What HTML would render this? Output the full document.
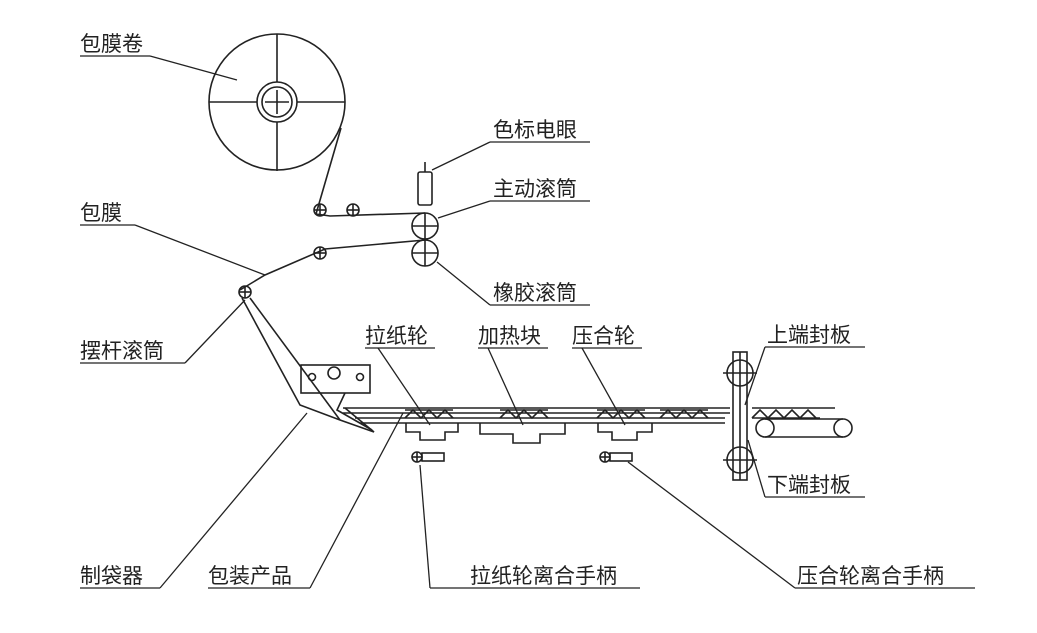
<!DOCTYPE html>
<html><head><meta charset="utf-8"><style>
html,body{margin:0;padding:0;background:#fff}
svg text{font-family:"Liberation Sans","Noto Sans CJK SC",sans-serif;font-size:21px;fill:#222}
</style></head><body>
<svg width="1037" height="628" viewBox="0 0 1037 628" xmlns="http://www.w3.org/2000/svg" fill="none" stroke="#222" stroke-width="1.6">
<defs>
<g id="r6"><circle r="6"/><line x1="-6" y1="0" x2="6" y2="0"/><line x1="0" y1="-6" x2="0" y2="6"/></g>
<g id="zz"><polyline points="0,0 8,-8 16,0 24,-8 32,0 40,-8 48,0"/><line x1="0" y1="-8" x2="48" y2="-8"/></g>
</defs>
<!-- roll -->
<circle cx="277" cy="102" r="68"/>
<line x1="209" y1="102" x2="345" y2="102"/><line x1="277" y1="34" x2="277" y2="171"/>
<circle cx="277" cy="102" r="20" fill="#fff"/><circle cx="277" cy="102" r="15"/>
<line x1="265" y1="102" x2="289" y2="102"/><line x1="277" y1="90" x2="277" y2="114"/>
<!-- film upper -->
<polyline points="341,128 316,214 330,216 425,213"/>
<use href="#r6" x="320" y="210"/><use href="#r6" x="353" y="210"/>
<rect x="418" y="172" width="14" height="33" rx="2"/><line x1="425" y1="162" x2="425" y2="172"/>
<circle cx="425" cy="226" r="13"/><line x1="412" y1="226" x2="438" y2="226"/><line x1="425" y1="213" x2="425" y2="239"/>
<circle cx="425" cy="253" r="13"/><line x1="412" y1="253" x2="438" y2="253"/><line x1="425" y1="240" x2="425" y2="266"/>
<polyline points="425,240 325,249 265,275 240,290"/>
<use href="#r6" x="320" y="253"/><use href="#r6" x="245" y="292"/>
<!-- swing arm -->
<polyline points="242,298 300,405 340,420 374,432 345,408"/>
<line x1="250" y1="298" x2="340" y2="420"/>
<rect x="301" y="365" width="69" height="28"/>
<circle cx="312" cy="377" r="3.5"/><circle cx="334" cy="373" r="6"/><circle cx="360" cy="377" r="3.5"/>
<polyline points="345,393 337,410 372,430"/>
<!-- tube -->
<line x1="343" y1="408" x2="730" y2="408"/><line x1="343" y1="413" x2="730" y2="413"/>
<line x1="355" y1="418" x2="725" y2="418"/><line x1="360" y1="423" x2="725" y2="423"/>
<use href="#zz" x="405" y="418"/><use href="#zz" x="500" y="418"/><use href="#zz" x="597" y="418"/><use href="#zz" x="660" y="418"/>
<polyline points="406,423 406,432 420,432 420,440 445,440 445,432 458,432 458,423"/>
<polyline points="480,423 480,434 513,434 513,443 540,443 540,434 565,434 565,423"/>
<polyline points="598,423 598,432 612,432 612,440 637,440 637,432 652,432 652,423"/>
<!-- handles -->
<circle cx="417" cy="457" r="5"/><line x1="412" y1="457" x2="422" y2="457"/><line x1="417" y1="452" x2="417" y2="462"/><rect x="422" y="453" width="22" height="8"/>
<circle cx="605" cy="457" r="5"/><line x1="600" y1="457" x2="610" y2="457"/><line x1="605" y1="452" x2="605" y2="462"/><rect x="610" y="453" width="22" height="8"/>
<!-- sealing plates -->
<rect x="733" y="352" width="14" height="128"/><line x1="740" y1="352" x2="740" y2="480"/>
<circle cx="740" cy="373" r="13"/><line x1="723" y1="373" x2="757" y2="373"/>
<circle cx="740" cy="460" r="13"/><line x1="723" y1="460" x2="757" y2="460"/>
<line x1="752" y1="408" x2="835" y2="408"/><line x1="752" y1="418" x2="820" y2="418"/>
<polyline points="752,418 760,410 768,418 776,410 784,418 792,410 800,418 808,410 816,418"/>
<circle cx="765" cy="428" r="9"/><circle cx="843" cy="428" r="9"/>
<line x1="765" y1="419" x2="843" y2="419"/><line x1="765" y1="437" x2="843" y2="437"/>
<!-- labels -->
<g stroke-width="1.3">
<line x1="80" y1="56" x2="150" y2="56"/><line x1="150" y1="56" x2="237" y2="80"/>
<line x1="490" y1="142" x2="590" y2="142"/><line x1="490" y1="142" x2="432" y2="170"/>
<line x1="490" y1="201" x2="590" y2="201"/><line x1="490" y1="201" x2="438" y2="218"/>
<line x1="80" y1="225" x2="135" y2="225"/><line x1="135" y1="225" x2="265" y2="275"/>
<line x1="490" y1="305" x2="590" y2="305"/><line x1="490" y1="305" x2="437" y2="262"/>
<line x1="80" y1="363" x2="185" y2="363"/><line x1="185" y1="363" x2="245" y2="300"/>
<line x1="365" y1="348" x2="435" y2="348"/><line x1="378" y1="348" x2="430" y2="425"/>
<line x1="478" y1="348" x2="548" y2="348"/><line x1="488" y1="348" x2="523" y2="425"/>
<line x1="572" y1="348" x2="642" y2="348"/><line x1="582" y1="348" x2="625" y2="425"/>
<line x1="765" y1="347" x2="865" y2="347"/><line x1="765" y1="347" x2="745" y2="405"/>
<line x1="765" y1="497" x2="865" y2="497"/><line x1="765" y1="497" x2="748" y2="440"/>
<line x1="80" y1="588" x2="160" y2="588"/><line x1="160" y1="588" x2="307" y2="413"/>
<line x1="208" y1="588" x2="310" y2="588"/><line x1="310" y1="588" x2="403" y2="413"/>
<line x1="430" y1="588" x2="640" y2="588"/><line x1="430" y1="588" x2="420" y2="465"/>
<line x1="795" y1="588" x2="975" y2="588"/><line x1="795" y1="588" x2="628" y2="462"/>
</g>
<g stroke="none">
<text x="80" y="51">包膜卷</text>
<text x="493" y="137">色标电眼</text>
<text x="493" y="196">主动滚筒</text>
<text x="80" y="220">包膜</text>
<text x="493" y="300">橡胶滚筒</text>
<text x="80" y="358">摆杆滚筒</text>
<text x="365" y="343">拉纸轮</text>
<text x="478" y="343">加热块</text>
<text x="572" y="343">压合轮</text>
<text x="767" y="342">上端封板</text>
<text x="767" y="492">下端封板</text>
<text x="80" y="583">制袋器</text>
<text x="208" y="583">包装产品</text>
<text x="470" y="583">拉纸轮离合手柄</text>
<text x="797" y="583">压合轮离合手柄</text>
</g>
</svg>
</body></html>
